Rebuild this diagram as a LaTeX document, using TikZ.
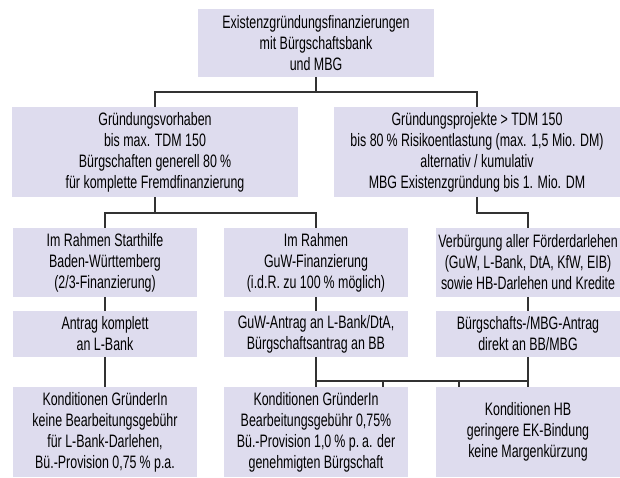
\documentclass[tikz,border=0pt]{standalone}
\usepackage{fontspec}
\setmainfont{Liberation Sans}[FakeStretch=0.69]
\definecolor{boxfill}{RGB}{222,220,238}
\definecolor{linegray}{RGB}{50,50,50}

\begin{document}
\begin{tikzpicture}[x=1pt,y=-1pt,
  box/.style={fill=boxfill, inner sep=0pt, align=center,
    font=\fontsize{18}{21}\selectfont},
  wide/.style={minimum width=286pt, minimum height=90pt},
  col/.style={minimum width=184pt},
  conn/.style={line width=1.1pt, draw=linegray}]
 \useasboundingbox (0,0) rectangle (620,478); %Rahmen
 % Ebene 1
 \node[box, minimum width=236pt, minimum height=68pt] (efin) at (316,43)
   {Existenzgründungsfinanzierungen\\mit Bürgschaftsbank\\und MBG};
 % Ebene 2
 \node[box, wide] (gv) at (155,152)
   {Gründungsvorhaben\\bis max. TDM 150\\Bürgschaften generell 80\,\%\\für komplette Fremdfinanzierung};
 \node[box, wide] (gp) at (477,152)
   {Gründungsprojekte > TDM 150\\bis 80\,\% Risikoentlastung (max. 1,5 Mio. DM)\\alternativ / kumulativ\\MBG Existenzgründung bis 1. Mio. DM};
 % Ebene 3
 \node[box, col, minimum height=69pt] (sth) at (105,262.5)
   {Im Rahmen Starthilfe\\Baden-Württemberg\\(2/3-Finanzierung)};
 \node[box, col, minimum height=69pt] (guw) at (316,262.5)
   {Im Rahmen\\GuW-Finanzierung\\(i.d.R. zu 100\,\% möglich)};
 \node[box, col, minimum height=69pt] (verb) at (528,262.5)
   {Verbürgung aller Förderdarlehen\\(GuW, L-Bank, DtA, KfW, EIB)\\sowie HB-Darlehen und Kredite};
 % Ebene 4
 \node[box, col, minimum height=46pt] (antr) at (105,334)
   {Antrag komplett\\an L-Bank};
 \node[box, col, minimum height=46pt] (guwa) at (316,334)
   {GuW-Antrag an L-Bank/DtA,\\Bürgschaftsantrag an BB};
 \node[box, col, minimum height=46pt] (bba) at (528,334)
   {Bürgschafts-/MBG-Antrag\\direkt an BB/MBG};
 % Ebene 5
 \node[box, col, minimum height=90pt] (kgr) at (105,432)
   {Konditionen GründerIn\\keine Bearbeitungsgebühr\\für L-Bank-Darlehen,\\Bü.-Provision 0,75\,\% p.a.};
 \node[box, col, minimum height=90pt] (kgb) at (316,432)
   {Konditionen GründerIn\\Bearbeitungsgebühr 0,75\%\\Bü.-Provision 1,0\,\% p.\,a. der\\genehmigten Bürgschaft};
 \node[box, col, minimum height=90pt] (khb) at (528,432)
   {Konditionen HB\\geringere EK-Bindung\\keine Margenkürzung};
 % Verzweigungspunkte
 \coordinate (j1) at (316,92); %unter Ebene 1
 \coordinate (j2) at (155,213); %unter Gründungsvorhaben
 \coordinate (j3) at (477,213); %unter Gründungsprojekte
 \coordinate (b1) at (383,381); %Abzweig zu kgb
 \coordinate (b2) at (459,381); %Abzweig zu khb
 % Verbindungen
 \draw[conn] (efin.south) -- (j1);
 \draw[conn] (gv.north) |- (j1) -| (gp.north);
 \draw[conn] (gv.south) -- (j2);
 \draw[conn] (sth.north) |- (j2) -| (guw.north);
 \draw[conn] (gp.south) -- (j3) -| (verb.north);
 \draw[conn] (sth.south) -- (antr.north);
 \draw[conn] (guw.south) -- (guwa.north);
 \draw[conn] (verb.south) -- (bba.north);
 \draw[conn] (antr.south) -- (kgr.north);
 \draw[conn] (guwa.south) -- (kgb.north);
 \draw[conn] (bba.south) -- (khb.north);
 \draw[conn] (guwa.south |- b1) -- (bba.south |- b1);
 \draw[conn] (b1) -- (b1 |- kgb.north);
 \draw[conn] (b2) -- (b2 |- khb.north);
\end{tikzpicture}
\end{document}
